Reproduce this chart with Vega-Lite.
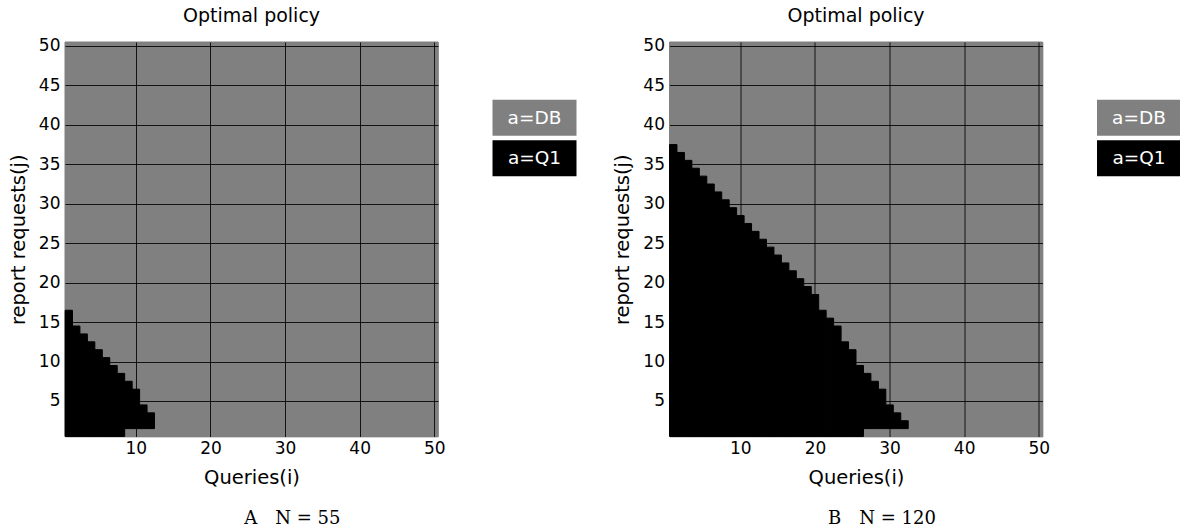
{
  "$schema": "https://vega.github.io/schema/vega-lite/v6.json",
  "padding": {"left": 7, "top": 6, "right": 0, "bottom": 0},
  "background": "white",
  "datasets": {
    "policy": [
      {"panel": "A", "action": "a=DB", "i0": 12.5, "i1": 50.5, "j0": 0.5, "j1": 50.5},
      {"panel": "A", "action": "a=DB", "i0": 8.5, "i1": 12.5, "j0": 0.5, "j1": 1.5},
      {"panel": "A", "action": "a=DB", "i0": 0.5, "i1": 1.5, "j0": 16.5, "j1": 50.5},
      {"panel": "A", "action": "a=DB", "i0": 1.5, "i1": 2.5, "j0": 14.5, "j1": 50.5},
      {"panel": "A", "action": "a=DB", "i0": 2.5, "i1": 3.5, "j0": 13.5, "j1": 50.5},
      {"panel": "A", "action": "a=DB", "i0": 3.5, "i1": 4.5, "j0": 12.5, "j1": 50.5},
      {"panel": "A", "action": "a=DB", "i0": 4.5, "i1": 5.5, "j0": 11.5, "j1": 50.5},
      {"panel": "A", "action": "a=DB", "i0": 5.5, "i1": 6.5, "j0": 10.5, "j1": 50.5},
      {"panel": "A", "action": "a=DB", "i0": 6.5, "i1": 7.5, "j0": 9.5, "j1": 50.5},
      {"panel": "A", "action": "a=DB", "i0": 7.5, "i1": 8.5, "j0": 8.5, "j1": 50.5},
      {"panel": "A", "action": "a=DB", "i0": 8.5, "i1": 9.5, "j0": 7.5, "j1": 50.5},
      {"panel": "A", "action": "a=DB", "i0": 9.5, "i1": 10.5, "j0": 6.5, "j1": 50.5},
      {"panel": "A", "action": "a=DB", "i0": 10.5, "i1": 11.5, "j0": 4.5, "j1": 50.5},
      {"panel": "A", "action": "a=DB", "i0": 11.5, "i1": 12.5, "j0": 3.5, "j1": 50.5},
      {"panel": "A", "action": "a=Q1", "i0": 0.5, "i1": 1.5, "j0": 0.5, "j1": 16.5},
      {"panel": "A", "action": "a=Q1", "i0": 1.5, "i1": 2.5, "j0": 0.5, "j1": 14.5},
      {"panel": "A", "action": "a=Q1", "i0": 2.5, "i1": 3.5, "j0": 0.5, "j1": 13.5},
      {"panel": "A", "action": "a=Q1", "i0": 3.5, "i1": 4.5, "j0": 0.5, "j1": 12.5},
      {"panel": "A", "action": "a=Q1", "i0": 4.5, "i1": 5.5, "j0": 0.5, "j1": 11.5},
      {"panel": "A", "action": "a=Q1", "i0": 5.5, "i1": 6.5, "j0": 0.5, "j1": 10.5},
      {"panel": "A", "action": "a=Q1", "i0": 6.5, "i1": 7.5, "j0": 0.5, "j1": 9.5},
      {"panel": "A", "action": "a=Q1", "i0": 7.5, "i1": 8.5, "j0": 0.5, "j1": 8.5},
      {"panel": "A", "action": "a=Q1", "i0": 8.5, "i1": 9.5, "j0": 1.5, "j1": 7.5},
      {"panel": "A", "action": "a=Q1", "i0": 9.5, "i1": 10.5, "j0": 1.5, "j1": 6.5},
      {"panel": "A", "action": "a=Q1", "i0": 10.5, "i1": 11.5, "j0": 1.5, "j1": 4.5},
      {"panel": "A", "action": "a=Q1", "i0": 11.5, "i1": 12.5, "j0": 1.5, "j1": 3.5},

      {"panel": "B", "action": "a=DB", "i0": 32.5, "i1": 50.5, "j0": 0.5, "j1": 50.5},
      {"panel": "B", "action": "a=DB", "i0": 26.5, "i1": 32.5, "j0": 0.5, "j1": 1.5},
      {"panel": "B", "action": "a=DB", "i0": 0.5, "i1": 1.5, "j0": 37.5, "j1": 50.5},
      {"panel": "B", "action": "a=DB", "i0": 1.5, "i1": 2.5, "j0": 36.5, "j1": 50.5},
      {"panel": "B", "action": "a=DB", "i0": 2.5, "i1": 3.5, "j0": 35.5, "j1": 50.5},
      {"panel": "B", "action": "a=DB", "i0": 3.5, "i1": 4.5, "j0": 34.5, "j1": 50.5},
      {"panel": "B", "action": "a=DB", "i0": 4.5, "i1": 5.5, "j0": 33.5, "j1": 50.5},
      {"panel": "B", "action": "a=DB", "i0": 5.5, "i1": 6.5, "j0": 32.5, "j1": 50.5},
      {"panel": "B", "action": "a=DB", "i0": 6.5, "i1": 7.5, "j0": 31.5, "j1": 50.5},
      {"panel": "B", "action": "a=DB", "i0": 7.5, "i1": 8.5, "j0": 30.5, "j1": 50.5},
      {"panel": "B", "action": "a=DB", "i0": 8.5, "i1": 9.5, "j0": 29.5, "j1": 50.5},
      {"panel": "B", "action": "a=DB", "i0": 9.5, "i1": 10.5, "j0": 28.5, "j1": 50.5},
      {"panel": "B", "action": "a=DB", "i0": 10.5, "i1": 11.5, "j0": 27.5, "j1": 50.5},
      {"panel": "B", "action": "a=DB", "i0": 11.5, "i1": 12.5, "j0": 26.5, "j1": 50.5},
      {"panel": "B", "action": "a=DB", "i0": 12.5, "i1": 13.5, "j0": 25.5, "j1": 50.5},
      {"panel": "B", "action": "a=DB", "i0": 13.5, "i1": 14.5, "j0": 24.5, "j1": 50.5},
      {"panel": "B", "action": "a=DB", "i0": 14.5, "i1": 15.5, "j0": 23.5, "j1": 50.5},
      {"panel": "B", "action": "a=DB", "i0": 15.5, "i1": 16.5, "j0": 22.5, "j1": 50.5},
      {"panel": "B", "action": "a=DB", "i0": 16.5, "i1": 17.5, "j0": 21.5, "j1": 50.5},
      {"panel": "B", "action": "a=DB", "i0": 17.5, "i1": 18.5, "j0": 20.5, "j1": 50.5},
      {"panel": "B", "action": "a=DB", "i0": 18.5, "i1": 19.5, "j0": 19.5, "j1": 50.5},
      {"panel": "B", "action": "a=DB", "i0": 19.5, "i1": 20.5, "j0": 18.5, "j1": 50.5},
      {"panel": "B", "action": "a=DB", "i0": 20.5, "i1": 21.5, "j0": 16.5, "j1": 50.5},
      {"panel": "B", "action": "a=DB", "i0": 21.5, "i1": 22.5, "j0": 15.5, "j1": 50.5},
      {"panel": "B", "action": "a=DB", "i0": 22.5, "i1": 23.5, "j0": 14.5, "j1": 50.5},
      {"panel": "B", "action": "a=DB", "i0": 23.5, "i1": 24.5, "j0": 12.5, "j1": 50.5},
      {"panel": "B", "action": "a=DB", "i0": 24.5, "i1": 25.5, "j0": 11.5, "j1": 50.5},
      {"panel": "B", "action": "a=DB", "i0": 25.5, "i1": 26.5, "j0": 9.5, "j1": 50.5},
      {"panel": "B", "action": "a=DB", "i0": 26.5, "i1": 27.5, "j0": 8.5, "j1": 50.5},
      {"panel": "B", "action": "a=DB", "i0": 27.5, "i1": 28.5, "j0": 7.5, "j1": 50.5},
      {"panel": "B", "action": "a=DB", "i0": 28.5, "i1": 29.5, "j0": 6.5, "j1": 50.5},
      {"panel": "B", "action": "a=DB", "i0": 29.5, "i1": 30.5, "j0": 4.5, "j1": 50.5},
      {"panel": "B", "action": "a=DB", "i0": 30.5, "i1": 31.5, "j0": 3.5, "j1": 50.5},
      {"panel": "B", "action": "a=DB", "i0": 31.5, "i1": 32.5, "j0": 2.5, "j1": 50.5},
      {"panel": "B", "action": "a=Q1", "i0": 0.5, "i1": 1.5, "j0": 0.5, "j1": 37.5},
      {"panel": "B", "action": "a=Q1", "i0": 1.5, "i1": 2.5, "j0": 0.5, "j1": 36.5},
      {"panel": "B", "action": "a=Q1", "i0": 2.5, "i1": 3.5, "j0": 0.5, "j1": 35.5},
      {"panel": "B", "action": "a=Q1", "i0": 3.5, "i1": 4.5, "j0": 0.5, "j1": 34.5},
      {"panel": "B", "action": "a=Q1", "i0": 4.5, "i1": 5.5, "j0": 0.5, "j1": 33.5},
      {"panel": "B", "action": "a=Q1", "i0": 5.5, "i1": 6.5, "j0": 0.5, "j1": 32.5},
      {"panel": "B", "action": "a=Q1", "i0": 6.5, "i1": 7.5, "j0": 0.5, "j1": 31.5},
      {"panel": "B", "action": "a=Q1", "i0": 7.5, "i1": 8.5, "j0": 0.5, "j1": 30.5},
      {"panel": "B", "action": "a=Q1", "i0": 8.5, "i1": 9.5, "j0": 0.5, "j1": 29.5},
      {"panel": "B", "action": "a=Q1", "i0": 9.5, "i1": 10.5, "j0": 0.5, "j1": 28.5},
      {"panel": "B", "action": "a=Q1", "i0": 10.5, "i1": 11.5, "j0": 0.5, "j1": 27.5},
      {"panel": "B", "action": "a=Q1", "i0": 11.5, "i1": 12.5, "j0": 0.5, "j1": 26.5},
      {"panel": "B", "action": "a=Q1", "i0": 12.5, "i1": 13.5, "j0": 0.5, "j1": 25.5},
      {"panel": "B", "action": "a=Q1", "i0": 13.5, "i1": 14.5, "j0": 0.5, "j1": 24.5},
      {"panel": "B", "action": "a=Q1", "i0": 14.5, "i1": 15.5, "j0": 0.5, "j1": 23.5},
      {"panel": "B", "action": "a=Q1", "i0": 15.5, "i1": 16.5, "j0": 0.5, "j1": 22.5},
      {"panel": "B", "action": "a=Q1", "i0": 16.5, "i1": 17.5, "j0": 0.5, "j1": 21.5},
      {"panel": "B", "action": "a=Q1", "i0": 17.5, "i1": 18.5, "j0": 0.5, "j1": 20.5},
      {"panel": "B", "action": "a=Q1", "i0": 18.5, "i1": 19.5, "j0": 0.5, "j1": 19.5},
      {"panel": "B", "action": "a=Q1", "i0": 19.5, "i1": 20.5, "j0": 0.5, "j1": 18.5},
      {"panel": "B", "action": "a=Q1", "i0": 20.5, "i1": 21.5, "j0": 0.5, "j1": 16.5},
      {"panel": "B", "action": "a=Q1", "i0": 21.5, "i1": 22.5, "j0": 0.5, "j1": 15.5},
      {"panel": "B", "action": "a=Q1", "i0": 22.5, "i1": 23.5, "j0": 0.5, "j1": 14.5},
      {"panel": "B", "action": "a=Q1", "i0": 23.5, "i1": 24.5, "j0": 0.5, "j1": 12.5},
      {"panel": "B", "action": "a=Q1", "i0": 24.5, "i1": 25.5, "j0": 0.5, "j1": 11.5},
      {"panel": "B", "action": "a=Q1", "i0": 25.5, "i1": 26.5, "j0": 0.5, "j1": 9.5},
      {"panel": "B", "action": "a=Q1", "i0": 26.5, "i1": 27.5, "j0": 1.5, "j1": 8.5},
      {"panel": "B", "action": "a=Q1", "i0": 27.5, "i1": 28.5, "j0": 1.5, "j1": 7.5},
      {"panel": "B", "action": "a=Q1", "i0": 28.5, "i1": 29.5, "j0": 1.5, "j1": 6.5},
      {"panel": "B", "action": "a=Q1", "i0": 29.5, "i1": 30.5, "j0": 1.5, "j1": 4.5},
      {"panel": "B", "action": "a=Q1", "i0": 30.5, "i1": 31.5, "j0": 1.5, "j1": 3.5},
      {"panel": "B", "action": "a=Q1", "i0": 31.5, "i1": 32.5, "j0": 1.5, "j1": 2.5}
    ]
  },
  "hconcat": [
    {
      "title": {"text": "A\u2003N = 55", "orient": "bottom", "anchor": "middle", "font": "DejaVu Serif", "fontSize": 18, "fontWeight": "normal", "offset": 22},
      "resolve": {"scale": {"color": "independent", "stroke": "independent"}, "legend": {"color": "independent", "stroke": "independent"}},
      "vconcat": [
        {
          "width": 373,
          "height": 394.5,
          "title": {"text": "Optimal policy", "frame": "group", "anchor": "middle"},
          "data": {"name": "policy"},
          "transform": [{"filter": "datum.panel === 'A'"}],
          "mark": {"type": "rect", "strokeWidth": 1},
          "encoding": {
            "x": {"field": "i0", "type": "quantitative", "scale": {"domain": [0.5, 50.5], "nice": false, "zero": false}, "axis": {"title": "Queries(i)", "values": [10, 20, 30, 40, 50], "zindex": 1, "labelPadding": 4, "titlePadding": 12}},
            "x2": {"field": "i1"},
            "y": {"field": "j0", "type": "quantitative", "scale": {"domain": [0.5, 50.5], "nice": false, "zero": false}, "axis": {"title": "report requests(j)", "values": [5, 10, 15, 20, 25, 30, 35, 40, 45, 50], "zindex": 1, "titlePadding": 10}},
            "y2": {"field": "j1"},
            "color": {"field": "action", "type": "nominal", "scale": {"domain": ["a=DB", "a=Q1"], "range": ["#808080", "#000000"]}, "legend": {"title": null, "orient": "none", "legendX": 451.5, "legendY": 57.8}},
            "stroke": {"field": "action", "type": "nominal", "scale": {"domain": ["a=DB", "a=Q1"], "range": ["#808080", "#000000"]}, "legend": null}
          }
        }
      ]
    },
    {
      "title": {"text": "B\u2003N = 120", "orient": "bottom", "anchor": "middle", "font": "DejaVu Serif", "fontSize": 18, "fontWeight": "normal", "offset": 22, "dx": -15},
      "resolve": {"scale": {"color": "independent", "stroke": "independent"}, "legend": {"color": "independent", "stroke": "independent"}},
      "vconcat": [
        {
          "width": 373,
          "height": 394.5,
          "title": {"text": "Optimal policy", "frame": "group", "anchor": "middle"},
          "data": {"name": "policy"},
          "transform": [{"filter": "datum.panel === 'B'"}],
          "mark": {"type": "rect", "strokeWidth": 1},
          "encoding": {
            "x": {"field": "i0", "type": "quantitative", "scale": {"domain": [0.5, 50.5], "nice": false, "zero": false}, "axis": {"title": "Queries(i)", "values": [10, 20, 30, 40, 50], "zindex": 1, "labelPadding": 4, "titlePadding": 12}},
            "x2": {"field": "i1"},
            "y": {"field": "j0", "type": "quantitative", "scale": {"domain": [0.5, 50.5], "nice": false, "zero": false}, "axis": {"title": "report requests(j)", "values": [5, 10, 15, 20, 25, 30, 35, 40, 45, 50], "zindex": 1, "titlePadding": 10}},
            "y2": {"field": "j1"},
            "color": {"field": "action", "type": "nominal", "scale": {"domain": ["a=DB", "a=Q1"], "range": ["#808080", "#000000"]}, "legend": {"title": null, "orient": "none", "legendX": 451.5, "legendY": 57.8}},
            "stroke": {"field": "action", "type": "nominal", "scale": {"domain": ["a=DB", "a=Q1"], "range": ["#808080", "#000000"]}, "legend": null}
          }
        }
      ]
    }
  ],
  "spacing": 34.5,
  "resolve": {"scale": {"color": "independent", "stroke": "independent"}, "legend": {"color": "independent", "stroke": "independent"}},
  "config": {
    "font": "DejaVu Sans",
    "view": {"stroke": "#a8a8a8", "strokeWidth": 1, "fill": "#808080"},
    "axis": {
      "grid": true, "gridColor": "#000000", "gridOpacity": 0.85, "gridWidth": 1,
      "ticks": false, "tickSize": 0, "domain": false,
      "labelFont": "DejaVu Sans", "labelFontSize": 17, "labelColor": "#000000", "labelPadding": 5,
      "labelOverlap": false, "labelFlush": false,
      "titleFont": "DejaVu Sans", "titleFontSize": 19.5, "titleFontWeight": "normal", "titleColor": "#000000", "titlePadding": 5
    },
    "title": {"font": "DejaVu Sans", "fontSize": 19, "fontWeight": "normal", "color": "#000000", "offset": 11},
    "legend": {
      "symbolType": "M-2.333,-1H2.333V1H-2.333Z", "symbolSize": 1296, "symbolStrokeWidth": 0, "symbolOpacity": 1,
      "labelColor": "#ffffff", "labelAlign": "center", "labelOffset": -18, "labelFontSize": 18.5, "labelFont": "DejaVu Sans", "labelLimit": 300,
      "rowPadding": 4.5, "padding": 0
    }
  }
}
